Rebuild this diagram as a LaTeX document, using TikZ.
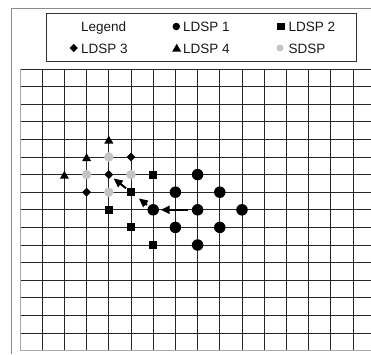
\documentclass[tikz,border=0pt]{standalone}
\usepackage{fontspec}
\setmainfont{Liberation Sans}
\usetikzlibrary{arrows.meta,shapes.geometric}
\definecolor{sdspgray}{HTML}{C4C4C4}
\definecolor{framegray}{HTML}{8C8C8C}
\definecolor{edgegray}{HTML}{A8A8A8}
\begin{document}
\begin{tikzpicture}[x=1pt,y=-1pt,
  ldspone/.style={circle,fill=black,inner sep=0pt,minimum size=11.5pt},
  ldsptwo/.style={rectangle,fill=black,inner sep=0pt,minimum size=8pt},
  ldspthree/.style={diamond,fill=black,inner sep=0pt,minimum size=9pt},
  ldspfour/.style={regular polygon,regular polygon sides=3,fill=black,inner sep=0pt,minimum size=10.5pt},
  sdspdot/.style={circle,fill=sdspgray,inner sep=0pt,minimum size=9.5pt},
  legtext/.style={anchor=base west,inner sep=0pt,text=black!90,font=\fontsize{13.5}{16}\selectfont},
  gridline/.style={line width=0.9pt,black!85},
  edgeline/.style={line width=0.9pt,edgegray},
  move/.style={line width=2pt,-{Triangle[length=9pt,width=8pt]}}
]
\useasboundingbox (0,0) rectangle (371,354);
\fill[white] (0,0) rectangle (371,354);
% outer frame
\draw[framegray,line width=1pt] (11,354) -- (11,8) -- (371,8);
% legend box
\draw[black!80,line width=0.8pt] (46.7,13.3) rectangle (356,61);
\node[legtext] (lgtitle) at (81,31.5) {Legend};
\node[ldspone,minimum size=7.5pt] (lg1) at (176.3,26.5) {};
\node[legtext] (lt1) at (183,31.5) {LDSP 1};
\node[ldsptwo,minimum size=7.5pt] (lg2) at (281,26.5) {};
\node[legtext] (lt2) at (288.3,31.5) {LDSP 2};
\node[ldspthree,minimum size=8.5pt] (lg3) at (73.7,48) {};
\node[legtext] (lt3) at (81,53) {LDSP 3};
\node[ldspfour,yshift=-1pt] (lg4) at (176.7,48) {};
\node[legtext] (lt4) at (183,53) {LDSP 4};
\node[sdspdot,minimum size=7pt] (lg5) at (280,48) {};
\node[legtext] (lt5) at (288.3,53) {SDSP};
% grid
\begin{scope}
\clip (0,0) rectangle (371,354);
\begin{scope}[shift={(20,69)},x=22.2pt,y=-17.6pt]
  \foreach \r in {0,...,15} \draw[gridline] (0,\r) -- (16,\r);
  \foreach \c in {1,...,16} \draw[gridline] (\c,0) -- (\c,16);
  \draw[edgeline] (0,0) -- (0,16) -- (16,16);
  % markers
  \foreach \c/\r in {8/6,7/7,9/7,6/8,8/8,10/8,7/9,9/9,8/10}
    \node[ldspone] (p\c\r) at (\c,\r) {};
  \foreach \c/\r in {6/6,5/7,4/8,5/9,6/10}
    \node[ldsptwo] (p\c\r) at (\c,\r) {};
  \foreach \c/\r in {5/5,4/6,3/7}
    \node[ldspthree] (p\c\r) at (\c,\r) {};
  \foreach \c/\r in {4/4,3/5,2/6}
    \node[ldspfour,yshift=-1.5pt] (p\c\r) at (\c,\r) {};
  \foreach \c/\r in {4/5,3/6,5/6,4/7}
    \node[sdspdot] (p\c\r) at (\c,\r) {};
  % search moves
  \draw[move,shorten <=9.5pt,shorten >=7.5pt] (p88.center) -- (p68.center);
  \draw[move,shorten <=7.8pt,shorten >=10pt] (p68.center) -- (p57.center);
  \draw[move,shorten <=6.4pt,shorten >=6.2pt] (p57.center) -- (p46.center);
\end{scope}
\end{scope}
\end{tikzpicture}
\end{document}
